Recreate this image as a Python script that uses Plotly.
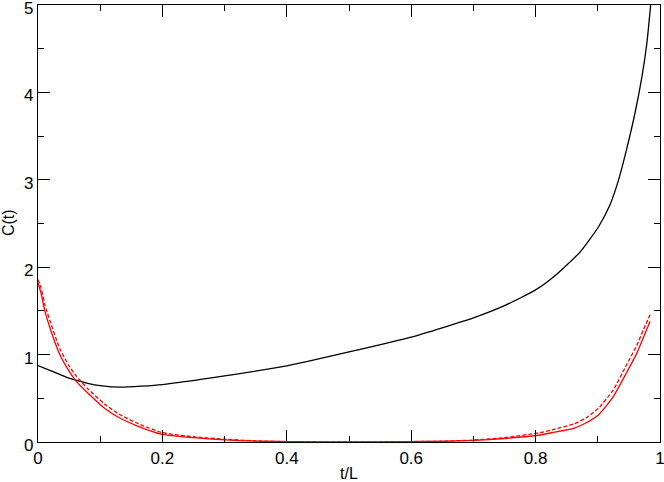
import plotly.graph_objects as go

# Black curve
t_black = [0, 0.02, 0.05, 0.08, 0.1, 0.134, 0.2, 0.3, 0.4, 0.5, 0.6, 0.7, 0.75, 0.8,
           0.834, 0.871, 0.901, 0.92, 0.933, 0.946, 0.96, 0.971, 0.979, 0.985]
c_black = [0.874, 0.817, 0.73, 0.672, 0.645, 0.627, 0.657, 0.756, 0.87, 1.03, 1.20, 1.42, 1.56, 1.74,
           1.92, 2.17, 2.46, 2.72, 2.99, 3.34, 3.77, 4.18, 4.57, 5.0]

# Red curves
t_red = [0, 0.005, 0.011, 0.02, 0.035, 0.05, 0.062, 0.08, 0.107, 0.13, 0.161, 0.2, 0.25, 0.3,
         0.35, 0.4, 0.5, 0.6, 0.65, 0.7, 0.75, 0.807, 0.83, 0.861, 0.88, 0.901, 0.925, 0.946, 0.963, 0.973, 0.984]
c_red_solid = [1.82, 1.70, 1.50, 1.29, 1.00, 0.81, 0.69, 0.56, 0.386, 0.28, 0.18, 0.088, 0.05, 0.025,
               0.01, 0.004, 0.001, 0.004, 0.008, 0.018, 0.04, 0.08, 0.112, 0.157, 0.215, 0.31, 0.52, 0.79, 1.02, 1.19, 1.38]
c_red_dashed = [1.86, 1.76, 1.57, 1.37, 1.07, 0.87, 0.75, 0.61, 0.435, 0.32, 0.21, 0.107, 0.06, 0.032,
                0.013, 0.005, 0.001, 0.005, 0.01, 0.022, 0.05, 0.107, 0.145, 0.206, 0.27, 0.386, 0.596, 0.88, 1.11, 1.28, 1.455]

x_ticks = [0, 0.2, 0.4, 0.6, 0.8, 1]
x_ticklabels = ["0", "0.2", "0.4", "0.6", "0.8", "1"]
y_ticks = [0, 1, 2, 3, 4, 5]
y_ticklabels = ["0", "1", "2", "3", "4", "5"]

line_shape = dict(shape="spline", smoothing=0.5)

fig = go.Figure()
fig.add_trace(go.Scatter(x=t_black, y=c_black, mode="lines", line=dict(color="black", width=1.3, **line_shape)))
fig.add_trace(go.Scatter(x=t_red, y=c_red_solid, mode="lines", line=dict(color="red", width=1.3, **line_shape)))
fig.add_trace(go.Scatter(x=t_red, y=c_red_dashed, mode="lines", line=dict(color="red", width=1.3, dash="4px,2px", **line_shape)))

fam = "Liberation Sans, Arial, sans-serif"
font = dict(family=fam, size=17, color="black")

axis_common = dict(ticks="inside", ticklen=12, tickwidth=1.2, tickcolor="black", showline=True,
                   linecolor="black", linewidth=1.3, mirror="ticks", showgrid=False, zeroline=False,
                   automargin=False, ticklabeloverflow="allow")

fig.update_layout(
    width=664, height=482,
    margin=dict(l=38, r=4, t=5, b=40, autoexpand=False),
    paper_bgcolor="white", plot_bgcolor="white",
    showlegend=False,
    font=font,
    xaxis=dict(range=[0, 1], tickvals=x_ticks, ticktext=x_ticklabels,
               minor=dict(ticks="inside", ticklen=6, dtick=0.1, tickcolor="black", tickwidth=1.2, showgrid=False),
               **axis_common),
    yaxis=dict(range=[0, 5], tickvals=y_ticks, ticktext=y_ticklabels, ticklabelshift=3,
               minor=dict(ticks="inside", ticklen=6, dtick=0.5, tickcolor="black", tickwidth=1.2, showgrid=False),
               **axis_common),
    annotations=[
        dict(text="t/L", xref="paper", yref="paper", x=0.5, y=-0.073, xanchor="center", yanchor="middle",
             showarrow=False, font=dict(family=fam, size=16, color="black")),
        dict(text="C(t)", xref="paper", yref="paper", x=-0.0485, y=0.503, xanchor="center", yanchor="middle",
             textangle=-90, showarrow=False, font=dict(family=fam, size=16, color="black")),
    ],
)

fig.write_html("out.html", config={"displayModeBar": False},
               post_script="document.body.style.margin='0px';document.body.style.padding='0px';")
